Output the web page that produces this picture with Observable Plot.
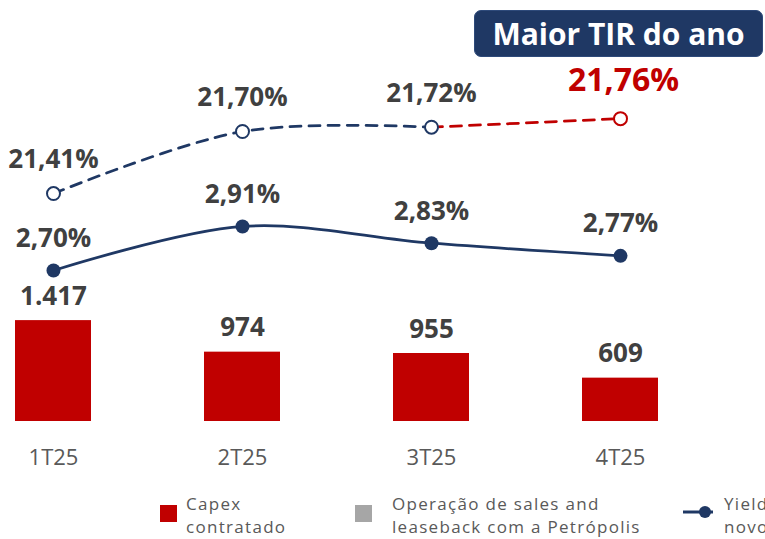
<!DOCTYPE html>
<html>
<head>
<meta charset="utf-8">
<script src="https://cdn.jsdelivr.net/npm/d3@7"></script>
<script src="https://cdn.jsdelivr.net/npm/@observablehq/plot@0.6"></script>
<style>
  html, body { margin: 0; padding: 0; background: #fff; }
  #wrap { position: relative; width: 765px; height: 539px; overflow: hidden; font-family: 'Open Sans', sans-serif; }
  #badge { position: absolute; left: 474px; top: 10px; width: 289px; height: 47px; background: #1f3864; border-radius: 7px;
           color: #fff; font-weight: 700; font-size: 30px; line-height: 45px; text-align: center; box-sizing: border-box; border: 1px solid #2e4a7a; white-space: nowrap; }
  .sw { position: absolute; width: 17px; height: 17px; }
  .lt { position: absolute; font-size: 17px; line-height: 23px; height: 23px; color: #595959; white-space: nowrap; letter-spacing: 1.3px; }
</style>
</head>
<body>
<div id="wrap">
  <div id="badge">Maior TIR do ano</div>
  <div class="sw" style="left:160px; top:505px; background:#c00000;"></div>
  <div class="lt" style="left:186px; top:492px;">Capex</div>
  <div class="lt" style="left:186px; top:515px;">contratado</div>
  <div class="sw" style="left:355px; top:505px; background:#a6a6a6;"></div>
  <div class="lt" style="left:392px; top:492px;">Operação de sales and</div>
  <div class="lt" style="left:392px; top:515px;">leaseback com a Petrópolis</div>
  <svg style="position:absolute; left:683px; top:503px;" width="32" height="18">
    <line x1="0" y1="9" x2="30" y2="9" stroke="#1f3864" stroke-width="3"></line>
    <circle cx="22" cy="9" r="6" fill="#1f3864"></circle>
  </svg>
  <div class="lt" style="left:724px; top:492px;">Yield</div>
  <div class="lt" style="left:724px; top:515px;">novo</div>
</div>
<script>
const quarters = ["1T25", "2T25", "3T25", "4T25"];
const capex = [1417, 974, 955, 609];
const capexLabels = ["1.417", "974", "955", "609"];
const yieldNovo = [2.70, 2.91, 2.83, 2.77];
const tir = [21.41, 21.70, 21.72, 21.76];

const fmtPct = v => v.toFixed(2).replace(".", ",") + "%";
const navy = "#1f3864", red = "#c00000", labelGray = "#404040";

const capexData = quarters.map((q, i) => ({q, v: capex[i], label: capexLabels[i]}));
const yieldData = quarters.map((q, i) => ({q, v: yieldNovo[i]}));
const tirData = quarters.map((q, i) => ({q, v: tir[i]}));
const tirNavy = tirData.slice(0, 3);
const tirRed = tirData.slice(2, 4);

function layer(yDomain, marks) {
  const svg = Plot.plot({
    width: 765, height: 480,
    marginTop: 0, marginBottom: 59, marginLeft: 0, marginRight: 0,
    x: {type: "band", domain: quarters, range: [-41.5, 714.5], paddingInner: 0.598, paddingOuter: 0.299, axis: null},
    y: {domain: yDomain, axis: null},
    style: {fontFamily: "'Open Sans', sans-serif", background: "transparent", overflow: "visible"},
    marks
  });
  svg.style.position = "absolute";
  svg.style.left = "0px";
  svg.style.top = "0px";
  return svg;
}

const wrap = document.getElementById("wrap");

// Bars (capex)
wrap.appendChild(layer([0, 5913], [
  Plot.barY(capexData, {x: "q", y: "v", fill: red}),
  Plot.text(capexData, {x: "q", y: "v", text: "label", dy: -24, fontSize: 26, fontWeight: 700, fill: labelGray}),
  Plot.text(quarters, {x: d => d, frameAnchor: "bottom", dy: 43, fontSize: 22, fill: "#595959"})
]));

// Yield line
wrap.appendChild(layer([1.981, 3.986], [
  Plot.line(yieldData, {x: "q", y: "v", stroke: navy, strokeWidth: 2.75, curve: "catmull-rom"}),
  Plot.dot(yieldData, {x: "q", y: "v", r: 7, fill: navy}),
  Plot.text(yieldData, {x: "q", y: "v", text: d => fmtPct(d.v), dy: -32, fontSize: 26, fontWeight: 700, fill: labelGray})
]));

// TIR line
wrap.appendChild(layer([20.345, 22.312], [
  Plot.line(tirNavy, {x: "q", y: "v", stroke: navy, strokeWidth: 2.75, strokeDasharray: "11,8", curve: "catmull-rom"}),
  Plot.line(tirRed, {x: "q", y: "v", stroke: red, strokeWidth: 2.75, strokeDasharray: "11,8"}),
  Plot.dot(tirData, {x: "q", y: "v", r: 6.5, fill: "white", stroke: (d, i) => i === 3 ? red : navy, strokeWidth: 2}),
  Plot.text(tirData.slice(0, 3), {x: "q", y: "v", text: d => fmtPct(d.v), dy: -34, fontSize: 26, fontWeight: 700, fill: labelGray}),
  Plot.text(tirData.slice(3), {x: "q", y: "v", text: d => fmtPct(d.v), dy: -38, fontSize: 32, fontWeight: 700, fill: red, dx: 3})
]));
</script>
</body>
</html>
